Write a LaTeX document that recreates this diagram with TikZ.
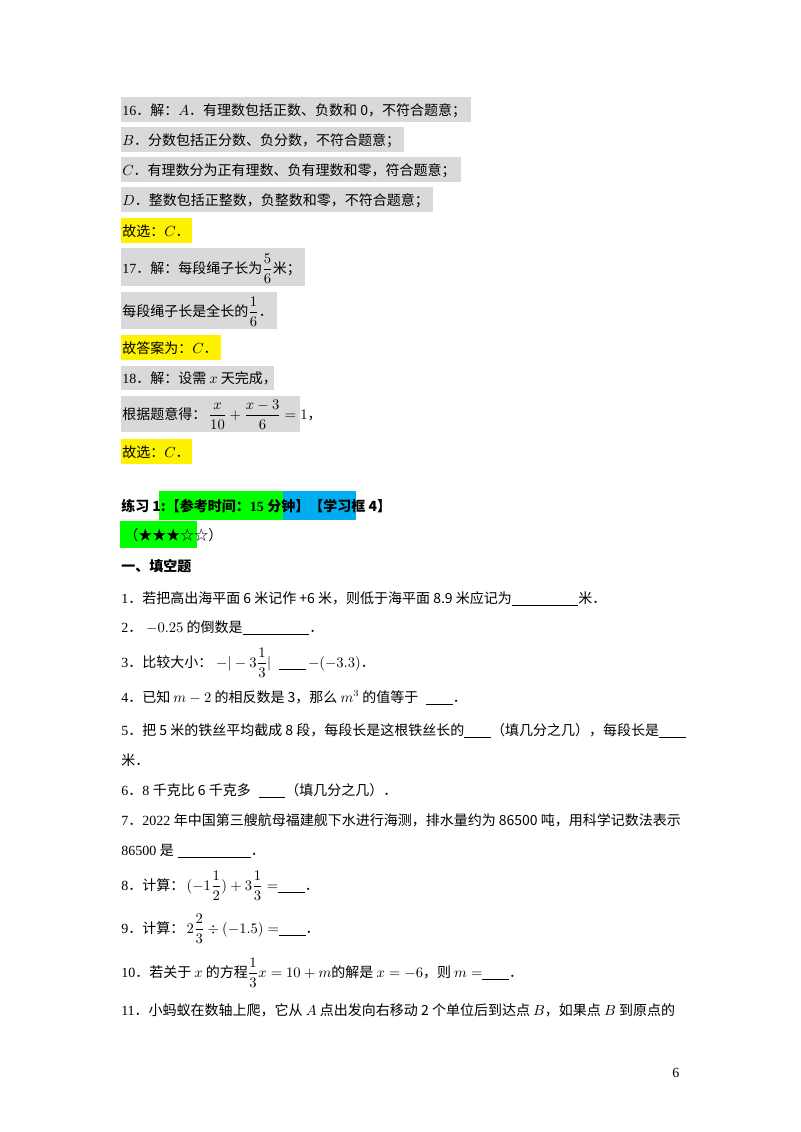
\documentclass[tikz,border=0pt]{standalone}
\usepackage{amsmath}
\usepackage{fontspec}
\setmainfont{Liberation Serif}
\newfontfamily\cjk{Noto Sans CJK SC}
\newfontfamily\latin{Liberation Serif}
\XeTeXinterchartokenstate=1
\newXeTeXintercharclass\CJKcls
\newcount\cc
\cc="4E00 \loop \XeTeXcharclass\cc=\CJKcls \advance\cc 1 \ifnum\cc<"9FFF \repeat
\cc="3000 \loop \XeTeXcharclass\cc=\CJKcls \advance\cc 1 \ifnum\cc<"3040 \repeat
\cc="FF00 \loop \XeTeXcharclass\cc=\CJKcls \advance\cc 1 \ifnum\cc<"FFF0 \repeat
\XeTeXcharclass"2605=\CJKcls \XeTeXcharclass"2606=\CJKcls
\XeTeXinterchartoks 0 \CJKcls {\cjk}
\XeTeXinterchartoks 4095 \CJKcls {\cjk}
\XeTeXinterchartoks \CJKcls 0 {\latin}
\definecolor{gbox}{HTML}{D9D9D9}
\newcommand{\blank}[1]{\underline{\hspace{#1}}}
\begin{document}
\begin{tikzpicture}[x=0.75pt,y=-0.75pt,
  t/.style={anchor=base west,inner sep=0pt,font=\fontsize{10.5}{12}\selectfont}]
\useasboundingbox[fill=white] (0,0) rectangle (800,1132);
% boxes
\fill[gbox] (121,97) rectangle (471,122);
\fill[gbox] (121,127) rectangle (404,152);
\fill[gbox] (121,157) rectangle (461,182);
\fill[gbox] (121,187) rectangle (433,212);
\fill[yellow] (121,218) rectangle (192,243);
\fill[gbox] (121,248) rectangle (305,286);
\fill[gbox] (121,292) rectangle (277,329);
\fill[yellow] (121,335) rectangle (221,360);
\fill[gbox] (121,366) rectangle (274,390);
\fill[gbox] (121,396) rectangle (300,432);
\fill[yellow] (121,439) rectangle (192,464);
\fill[green] (159,491) rectangle (283,520);
\fill[cyan] (283,491) rectangle (356,520);
\fill[green] (120,521) rectangle (197,548);
% answers
\node[t] (a16) at (122,115) {16．解：$A$．有理数包括正数、负数和 0，不符合题意；};
\node[t] (aB) at (122,145) {$B$．分数包括正分数、负分数，不符合题意；};
\node[t] (aC) at (122,175) {$C$．有理数分为正有理数、负有理数和零，符合题意；};
\node[t] (aD) at (122,205) {$D$．整数包括正整数，负整数和零，不符合题意；};
\node[t] (g1) at (122,236) {故选：$C$．};
\node[t] (a17) at (122,273) {17．解：每段绳子长为$\dfrac{5}{6}$米；};
\node[t] (a17b) at (122,316) {每段绳子长是全长的$\dfrac{1}{6}$．};
\node[t] (g2) at (122,353) {故答案为：$C$．};
\node[t] (a18) at (122,383) {18．解：设需 $x$ 天完成，};
\node[t] (a18b) at (122,419) {根据题意得：\,$\dfrac{x}{10}+\dfrac{x-3}{6}=1$，};
\node[t] (g3) at (122,457) {故选：$C$．};
% practice
\node[t,font=\fontsize{10.5}{12}\selectfont\bfseries] (p1) at (121,511) {练习 1:【参考时间：15 分钟】【学习框 4】};
\node[t] (st) at (124,540) {（★★★☆☆）};
\node[t,font=\fontsize{10.5}{12}\selectfont\bfseries] (h1) at (121,571) {一、填空题};
\node[t] (q1) at (121,603) {1．若把高出海平面 6 米记作 +6 米，则低于海平面 8.9 米应记为\blank{50pt}米．};
\node[t] (q2) at (121,632) {2．\;$-0.25$ 的倒数是\blank{50pt}．};
\node[t] (q3) at (121,667) {3．比较大小：\;$-|-3\dfrac{1}{3}|$\;\;\blank{20pt}\,$-(-3.3)$．};
\node[t] (q4) at (121,702) {4．已知 $m-2$ 的相反数是 3，那么 $m^3$ 的值等于\;\;\blank{20pt}．};
\node[t] (q5) at (121,735) {5．把 5 米的铁丝平均截成 8 段，每段长是这根铁丝长的\blank{20pt}（填几分之几），每段长是\blank{20pt}};
\node[t] (q5b) at (121,765) {米．};
\node[t] (q6) at (121,795) {6．8 千克比 6 千克多\;\;\blank{20pt}（填几分之几）．};
\node[t] (q7) at (121,825) {7．2022 年中国第三艘航母福建舰下水进行海测，排水量约为 86500 吨，用科学记数法表示};
\node[t] (q7b) at (121,855) {86500 是\;\blank{55pt}．};
\node[t] (q8) at (121,890) {8．计算：\,$(-1\dfrac{1}{2})+3\dfrac{1}{3}=$\blank{20pt}．};
\node[t] (q9) at (121,933) {9．计算：\,$2\dfrac{2}{3}\div(-1.5)=$\blank{20pt}．};
\node[t] (q10) at (121,977) {10．若关于 $x$ 的方程$\dfrac{1}{3}x=10+m$的解是 $x=-6$，则 $m=$\blank{20pt}．};
\node[t] (q11) at (121,1015) {11．小蚂蚁在数轴上爬，它从 $A$ 点出发向右移动 2 个单位后到达点 $B$，如果点 $B$ 到原点的};
\node[t] (pg) at (672,1077) {6};
\end{tikzpicture}
\end{document}
